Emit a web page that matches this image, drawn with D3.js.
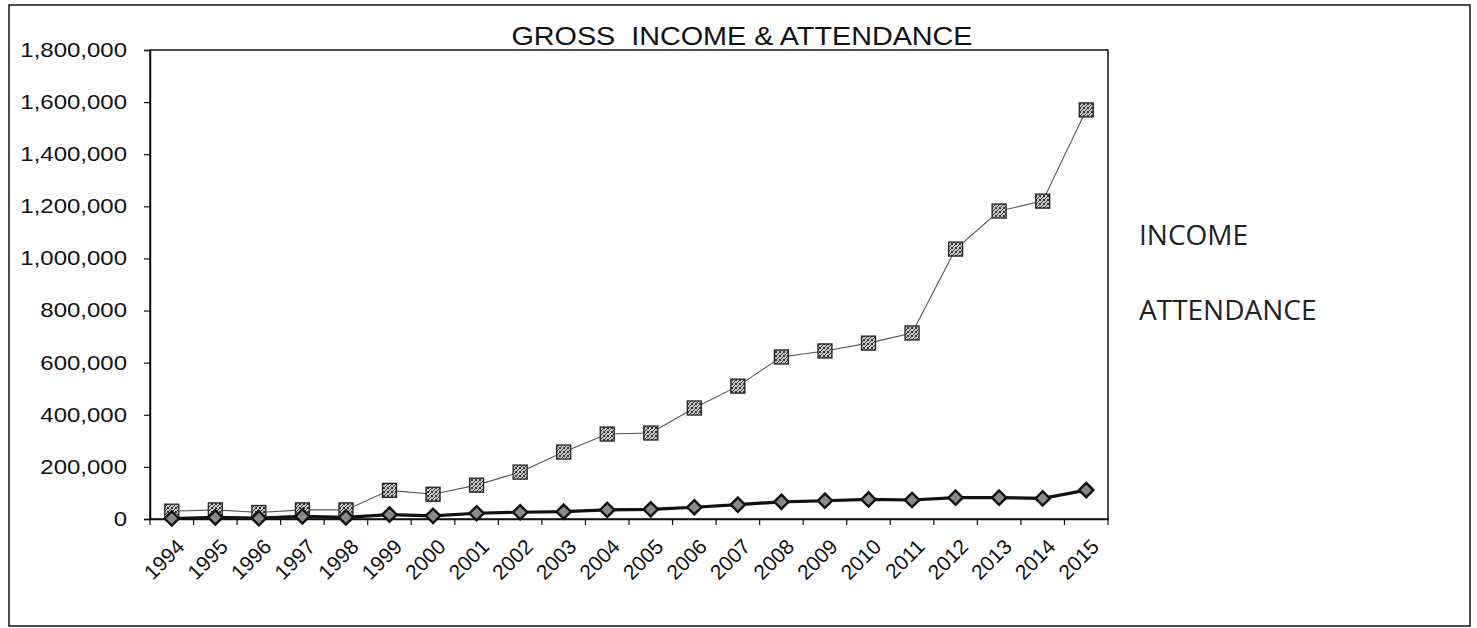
<!DOCTYPE html>
<html>
<head>
<meta charset="utf-8">
<script src="https://cdn.jsdelivr.net/npm/d3@7"></script>
<style>
  html, body { margin: 0; padding: 0; background: #fff; }
  svg { display: block; }
</style>
</head>
<body>
<svg id="chart" width="1477" height="628"></svg>
<script>
// Yearly figures
const years = ["1994","1995","1996","1997","1998","1999","2000","2001","2002","2003","2004",
               "2005","2006","2007","2008","2009","2010","2011","2012","2013","2014","2015"];
const income = [30000, 35000, 25000, 35000, 35000, 110000, 95000, 130000, 180000, 257000, 326000,
                330000, 426000, 510000, 622000, 645000, 675000, 714000, 1036000, 1182000, 1220000, 1570000];
const attendance = [2000, 6000, 3000, 10000, 6000, 17000, 12000, 22000, 26000, 28000, 35000,
                    37000, 45000, 55000, 66000, 70000, 75000, 73000, 82000, 82000, 79000, 111000];
const yTicks = [0, 200000, 400000, 600000, 800000, 1000000, 1200000, 1400000, 1600000, 1800000];
const legendLabels = ["INCOME", "ATTENDANCE"];
const titleText = "GROSS\u00a0 INCOME & ATTENDANCE";

const svg = d3.select("#chart");
const plot = { left: 150, right: 1108, top: 50, bottom: 519 };

// grainy grey fill for the income squares
const defs = svg.append("defs");
const pat = defs.append("pattern").attr("id", "grain")
  .attr("width", 4).attr("height", 4).attr("patternUnits", "userSpaceOnUse");
pat.append("rect").attr("width", 4).attr("height", 4).attr("fill", "#c8c8c8");
[[0,0],[2,1],[1,2],[3,3],[0,3],[3,0]].forEach(([a,b]) =>
  pat.append("rect").attr("x", a).attr("y", b).attr("width", 1).attr("height", 1).attr("fill", "#333"));

// outer frame
svg.append("rect").attr("x", 9).attr("y", 5).attr("width", 1461).attr("height", 621)
  .attr("fill", "none").attr("stroke", "#111").attr("stroke-width", 1.5);

const x = d3.scaleBand().domain(years).range([plot.left, plot.right]);
const y = d3.scaleLinear().domain([0, 1800000]).range([plot.bottom, plot.top]);
const cx = d => x(d) + x.bandwidth() / 2;

// plot area border
svg.append("rect").attr("x", plot.left).attr("y", plot.top)
  .attr("width", plot.right - plot.left).attr("height", plot.bottom - plot.top)
  .attr("fill", "none").attr("stroke", "#111").attr("stroke-width", 1.5);

// y axis
const yAxis = svg.append("g").attr("transform", `translate(${plot.left},0)`)
  .call(d3.axisLeft(y).tickValues(yTicks).tickFormat(d3.format(",")).tickSize(6).tickPadding(17));
yAxis.select(".domain").attr("stroke", "#111").attr("stroke-width", 1.5);
yAxis.selectAll(".tick line").attr("stroke", "#111").attr("stroke-width", 1.2);
yAxis.selectAll(".tick text")
  .attr("font-family", "'Liberation Sans', Arial, sans-serif")
  .attr("font-size", 20).attr("fill", "#111")
  .each(function() {
    const t = d3.select(this);
    const xx = +t.attr("x");
    t.attr("transform", `translate(${xx},0) scale(1.2,1) translate(${-xx},0)`);
  });

// x axis: labels under each year, tick marks between years
const xAxis = svg.append("g").attr("transform", `translate(0,${plot.bottom})`)
  .call(d3.axisBottom(x).tickSize(0).tickPadding(0));
xAxis.select(".domain").attr("stroke", "#111").attr("stroke-width", 1.5);
xAxis.selectAll(".tick text")
  .attr("font-family", "'Liberation Sans', Arial, sans-serif")
  .attr("font-size", 21).attr("fill", "#111")
  .attr("text-anchor", "end").attr("dy", null).attr("y", 0)
  .attr("transform", "translate(14,29) rotate(-45)");
const bounds = years.map(d => x(d)).concat([plot.right]);
svg.append("g").selectAll("line").data(bounds).join("line")
  .attr("x1", d => d).attr("x2", d => d)
  .attr("y1", plot.bottom).attr("y2", plot.bottom + 6)
  .attr("stroke", "#111").attr("stroke-width", 1.2);

// income series: thin grey line with grainy squares
const incomeLine = d3.line().x((d, i) => cx(years[i])).y(d => y(d));
svg.append("path").datum(income).attr("d", incomeLine)
  .attr("fill", "none").attr("stroke", "#555").attr("stroke-width", 1.1);
svg.append("g").selectAll("rect").data(income).join("rect")
  .attr("x", (d, i) => cx(years[i]) - 7).attr("y", d => y(d) - 7)
  .attr("width", 14).attr("height", 14)
  .attr("fill", "url(#grain)").attr("stroke", "#222").attr("stroke-width", 1.3);

// attendance series: heavy black line with diamonds
const attLine = d3.line().x((d, i) => cx(years[i])).y(d => y(d));
svg.append("path").datum(attendance).attr("d", attLine)
  .attr("fill", "none").attr("stroke", "#111").attr("stroke-width", 3.2);
svg.append("g").selectAll("path").data(attendance).join("path")
  .attr("d", d3.symbol().type(d3.symbolDiamond2).size(130))
  .attr("transform", (d, i) => `translate(${cx(years[i])},${y(d)})`)
  .attr("fill", "#8a8a8a").attr("stroke", "#111").attr("stroke-width", 2.4);

// title
svg.append("text").attr("x", 742).attr("y", 45)
  .attr("text-anchor", "middle")
  .attr("font-family", "'Liberation Sans', Arial, sans-serif")
  .attr("font-size", 25).attr("fill", "#111")
  .attr("transform", "translate(742,0) scale(1.15,1) translate(-742,0)")
  .text(titleText);

// legend labels
svg.append("g").selectAll("text").data(legendLabels).join("text")
  .attr("x", 1139).attr("y", (d, i) => 245 + i * 75)
  .attr("font-family", "'Open Sans', sans-serif")
  .attr("font-size", 28).attr("fill", "#222")
  .text(d => d);
</script>
</body>
</html>
